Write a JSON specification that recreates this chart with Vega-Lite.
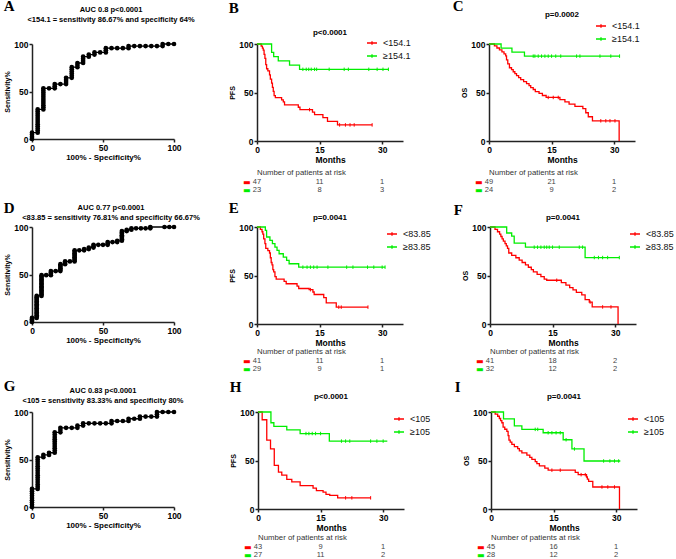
{
"$schema":"https://vega.github.io/schema/vega-lite/v6.json",
"background":"white",
"padding":{"left":3,"top":-2,"right":0,"bottom":0},
"config":{
"font":"Liberation Sans",
"view":{"stroke":null},
"title":{"fontSize":8,"fontWeight":"bold","anchor":"middle","frame":"group","color":"black","lineHeight":9.5},
"axis":{"grid":false,"domainColor":"#222","domainWidth":1.5,"tickColor":"#222","tickWidth":1.5,"tickSize":3,"labelFontSize":8.5,"labelFontWeight":"bold","labelColor":"black","labelPadding":1,"titleFontSize":8,"titleFontWeight":"bold","titleColor":"black","titlePadding":2,"labelFlush":false,"labelOverlap":false},
"axisY":{"titlePadding":3},
"legend":{"orient":"none","symbolType":"M-1,0H1M0,-0.35V0.35","symbolSize":100,"symbolStrokeWidth":1.3,"labelFontSize":9,"labelColor":"#111","rowPadding":2,"labelOffset":5,"padding":0}
},
"datasets":{
"roc":[
{"p":"A","x":0,"y":0},{"p":"A","x":0,"y":2.2},{"p":"A","x":0,"y":4.4},{"p":"A","x":0,"y":6.7},
{"p":"A","x":4,"y":6.7},{"p":"A","x":4,"y":8.9},{"p":"A","x":4,"y":11.1},{"p":"A","x":4,"y":13.3},{"p":"A","x":4,"y":15.6},{"p":"A","x":4,"y":17.8},{"p":"A","x":4,"y":20},{"p":"A","x":4,"y":22.2},{"p":"A","x":4,"y":24.4},{"p":"A","x":4,"y":26.7},{"p":"A","x":4,"y":28.9},{"p":"A","x":4,"y":31.1},
{"p":"A","x":8,"y":31.1},{"p":"A","x":8,"y":33.3},{"p":"A","x":8,"y":35.6},{"p":"A","x":8,"y":37.8},{"p":"A","x":8,"y":40},{"p":"A","x":8,"y":42.2},{"p":"A","x":8,"y":44.4},{"p":"A","x":8,"y":46.7},{"p":"A","x":8,"y":48.9},{"p":"A","x":8,"y":51.1},{"p":"A","x":8,"y":53.3},
{"p":"A","x":12,"y":53.3},{"p":"A","x":16,"y":53.3},{"p":"A","x":16,"y":55.6},{"p":"A","x":16,"y":57.8},{"p":"A","x":20,"y":57.8},
{"p":"A","x":24,"y":57.8},{"p":"A","x":24,"y":60},{"p":"A","x":24,"y":62.2},{"p":"A","x":24,"y":64.4},
{"p":"A","x":28,"y":64.4},{"p":"A","x":28,"y":66.7},{"p":"A","x":28,"y":68.9},{"p":"A","x":28,"y":71.1},{"p":"A","x":28,"y":73.3},{"p":"A","x":28,"y":75.6},
{"p":"A","x":32,"y":75.6},{"p":"A","x":32,"y":77.8},{"p":"A","x":32,"y":80},
{"p":"A","x":36,"y":80},{"p":"A","x":36,"y":82.2},{"p":"A","x":36,"y":84.4},{"p":"A","x":36,"y":86.7},
{"p":"A","x":40,"y":86.7},{"p":"A","x":40,"y":88.9},{"p":"A","x":44,"y":88.9},{"p":"A","x":44,"y":91.1},{"p":"A","x":48,"y":91.1},
{"p":"A","x":52,"y":91.1},{"p":"A","x":52,"y":93.3},{"p":"A","x":52,"y":95.6},{"p":"A","x":56,"y":95.6},{"p":"A","x":60,"y":95.6},{"p":"A","x":64,"y":95.6},
{"p":"A","x":68,"y":95.6},{"p":"A","x":68,"y":97.8},{"p":"A","x":72,"y":97.8},{"p":"A","x":76,"y":97.8},{"p":"A","x":80,"y":97.8},{"p":"A","x":84,"y":97.8},{"p":"A","x":88,"y":97.8},
{"p":"A","x":92,"y":97.8},{"p":"A","x":92,"y":100},{"p":"A","x":96,"y":100},{"p":"A","x":100,"y":100},
{"p":"D","x":0,"y":0},{"p":"D","x":0,"y":1.4},{"p":"D","x":0,"y":2.9},{"p":"D","x":0,"y":4.3},
{"p":"D","x":3.3,"y":4.3},{"p":"D","x":3.3,"y":5.8},{"p":"D","x":3.3,"y":7.2},{"p":"D","x":3.3,"y":8.7},{"p":"D","x":3.3,"y":10.1},{"p":"D","x":3.3,"y":11.6},{"p":"D","x":3.3,"y":13},{"p":"D","x":3.3,"y":14.5},{"p":"D","x":3.3,"y":15.9},{"p":"D","x":3.3,"y":17.4},{"p":"D","x":3.3,"y":18.8},{"p":"D","x":3.3,"y":20.3},{"p":"D","x":3.3,"y":21.7},{"p":"D","x":3.3,"y":23.2},{"p":"D","x":3.3,"y":24.6},{"p":"D","x":3.3,"y":26.1},{"p":"D","x":3.3,"y":27.5},
{"p":"D","x":6.7,"y":27.5},{"p":"D","x":6.7,"y":29},{"p":"D","x":6.7,"y":30.4},{"p":"D","x":6.7,"y":31.9},{"p":"D","x":6.7,"y":33.3},{"p":"D","x":6.7,"y":34.8},{"p":"D","x":6.7,"y":36.2},{"p":"D","x":6.7,"y":37.7},{"p":"D","x":6.7,"y":39.1},{"p":"D","x":6.7,"y":40.6},{"p":"D","x":6.7,"y":42},{"p":"D","x":6.7,"y":43.5},{"p":"D","x":6.7,"y":44.9},{"p":"D","x":6.7,"y":46.4},{"p":"D","x":6.7,"y":47.8},{"p":"D","x":6.7,"y":49.3},
{"p":"D","x":10,"y":49.3},{"p":"D","x":13.3,"y":49.3},{"p":"D","x":13.3,"y":50.7},{"p":"D","x":13.3,"y":52.2},{"p":"D","x":13.3,"y":53.6},{"p":"D","x":16.7,"y":53.6},
{"p":"D","x":20,"y":53.6},{"p":"D","x":20,"y":55.1},{"p":"D","x":20,"y":56.5},{"p":"D","x":20,"y":58},{"p":"D","x":20,"y":59.4},{"p":"D","x":20,"y":60.9},
{"p":"D","x":23.3,"y":60.9},{"p":"D","x":23.3,"y":62.3},{"p":"D","x":23.3,"y":63.8},{"p":"D","x":26.7,"y":63.8},
{"p":"D","x":30,"y":63.8},{"p":"D","x":30,"y":65.2},{"p":"D","x":30,"y":66.7},{"p":"D","x":30,"y":68.1},{"p":"D","x":30,"y":69.6},{"p":"D","x":30,"y":71},{"p":"D","x":30,"y":72.5},{"p":"D","x":30,"y":73.9},{"p":"D","x":30,"y":75.4},
{"p":"D","x":33.3,"y":75.4},{"p":"D","x":36.7,"y":75.4},{"p":"D","x":36.7,"y":76.8},{"p":"D","x":40,"y":76.8},{"p":"D","x":40,"y":78.3},
{"p":"D","x":43.3,"y":78.3},{"p":"D","x":43.3,"y":79.7},{"p":"D","x":43.3,"y":81.2},{"p":"D","x":46.7,"y":81.2},{"p":"D","x":50,"y":81.2},
{"p":"D","x":53.3,"y":81.2},{"p":"D","x":53.3,"y":82.6},{"p":"D","x":53.3,"y":84.1},{"p":"D","x":56.7,"y":84.1},{"p":"D","x":60,"y":84.1},{"p":"D","x":60,"y":85.5},
{"p":"D","x":63.3,"y":85.5},{"p":"D","x":63.3,"y":87},{"p":"D","x":63.3,"y":88.4},{"p":"D","x":63.3,"y":89.9},{"p":"D","x":63.3,"y":91.3},{"p":"D","x":63.3,"y":92.8},{"p":"D","x":63.3,"y":94.2},{"p":"D","x":63.3,"y":95.7},
{"p":"D","x":66.7,"y":95.7},{"p":"D","x":66.7,"y":97.1},{"p":"D","x":70,"y":97.1},{"p":"D","x":70,"y":98.6},{"p":"D","x":73.3,"y":98.6},{"p":"D","x":76.7,"y":98.6},{"p":"D","x":80,"y":98.6},
{"p":"D","x":83.3,"y":98.6},{"p":"D","x":83.3,"y":100},{"p":"D","x":93.3,"y":100},{"p":"D","x":96.7,"y":100},{"p":"D","x":100,"y":100},
{"p":"G","x":0,"y":0},{"p":"G","x":0,"y":2.4},{"p":"G","x":0,"y":4.8},{"p":"G","x":0,"y":7.1},{"p":"G","x":0,"y":9.5},{"p":"G","x":0,"y":11.9},{"p":"G","x":0,"y":14.3},{"p":"G","x":0,"y":16.7},{"p":"G","x":0,"y":19},
{"p":"G","x":4,"y":19},{"p":"G","x":4,"y":21.4},{"p":"G","x":4,"y":23.8},{"p":"G","x":4,"y":26.2},{"p":"G","x":4,"y":28.6},{"p":"G","x":4,"y":31},{"p":"G","x":4,"y":33.3},{"p":"G","x":4,"y":35.7},{"p":"G","x":4,"y":38.1},{"p":"G","x":4,"y":40.5},{"p":"G","x":4,"y":42.9},{"p":"G","x":4,"y":45.2},{"p":"G","x":4,"y":47.6},{"p":"G","x":4,"y":50},{"p":"G","x":4,"y":52.4},
{"p":"G","x":8,"y":52.4},{"p":"G","x":8,"y":54.8},{"p":"G","x":12,"y":54.8},{"p":"G","x":12,"y":57.1},
{"p":"G","x":16,"y":57.1},{"p":"G","x":16,"y":59.5},{"p":"G","x":16,"y":61.9},{"p":"G","x":16,"y":64.3},{"p":"G","x":16,"y":66.7},{"p":"G","x":16,"y":69},{"p":"G","x":16,"y":71.4},{"p":"G","x":16,"y":73.8},{"p":"G","x":16,"y":76.2},{"p":"G","x":16,"y":78.6},
{"p":"G","x":20,"y":78.6},{"p":"G","x":20,"y":81},{"p":"G","x":20,"y":83.3},{"p":"G","x":24,"y":83.3},{"p":"G","x":28,"y":83.3},
{"p":"G","x":32,"y":83.3},{"p":"G","x":32,"y":85.7},{"p":"G","x":36,"y":85.7},{"p":"G","x":36,"y":88.1},{"p":"G","x":40,"y":88.1},{"p":"G","x":44,"y":88.1},{"p":"G","x":48,"y":88.1},{"p":"G","x":52,"y":88.1},
{"p":"G","x":56,"y":88.1},{"p":"G","x":56,"y":90.5},{"p":"G","x":60,"y":90.5},{"p":"G","x":64,"y":90.5},{"p":"G","x":68,"y":90.5},{"p":"G","x":68,"y":92.9},{"p":"G","x":72,"y":92.9},
{"p":"G","x":76,"y":92.9},{"p":"G","x":76,"y":95.2},{"p":"G","x":80,"y":95.2},{"p":"G","x":84,"y":95.2},{"p":"G","x":88,"y":95.2},{"p":"G","x":88,"y":97.6},{"p":"G","x":88,"y":100},{"p":"G","x":92,"y":100},{"p":"G","x":96,"y":100},{"p":"G","x":100,"y":100}
],
"km":[
{"p":"B","g":"<154.1","t":0,"s":100},{"p":"B","g":"<154.1","t":1,"s":97.9},{"p":"B","g":"<154.1","t":1.3,"s":95.7},{"p":"B","g":"<154.1","t":1.5,"s":93.6},{"p":"B","g":"<154.1","t":1.7,"s":89.4},{"p":"B","g":"<154.1","t":1.9,"s":85.1},{"p":"B","g":"<154.1","t":2.1,"s":78.7},{"p":"B","g":"<154.1","t":2.3,"s":74.5},{"p":"B","g":"<154.1","t":2.6,"s":72.3},{"p":"B","g":"<154.1","t":3,"s":68.1},{"p":"B","g":"<154.1","t":3.2,"s":63.8},{"p":"B","g":"<154.1","t":3.5,"s":59.6},{"p":"B","g":"<154.1","t":3.7,"s":55.3},{"p":"B","g":"<154.1","t":3.9,"s":51.1},{"p":"B","g":"<154.1","t":4.1,"s":46.8},{"p":"B","g":"<154.1","t":4.4,"s":44.7},{"p":"B","g":"<154.1","t":5.9,"s":42.5},{"p":"B","g":"<154.1","t":6.3,"s":40.4},{"p":"B","g":"<154.1","t":6.6,"s":37.2},{"p":"B","g":"<154.1","t":9.9,"s":34.8},{"p":"B","g":"<154.1","t":10.3,"s":32.3},{"p":"B","g":"<154.1","t":13.3,"s":29.8},{"p":"B","g":"<154.1","t":13.8,"s":27.1},{"p":"B","g":"<154.1","t":15.8,"s":24.2},{"p":"B","g":"<154.1","t":16.9,"s":20.2},{"p":"B","g":"<154.1","t":19.3,"s":16.6},{"p":"B","g":"<154.1","t":27.6,"s":16.6},
{"p":"B","g":"≥154.1","t":0,"s":100},{"p":"B","g":"≥154.1","t":3.5,"s":91.3},{"p":"B","g":"≥154.1","t":4,"s":87},{"p":"B","g":"≥154.1","t":5.1,"s":82.6},{"p":"B","g":"≥154.1","t":7.8,"s":78.3},{"p":"B","g":"≥154.1","t":10.2,"s":73.9},{"p":"B","g":"≥154.1","t":31.5,"s":73.9},
{"p":"C","g":"<154.1","t":0,"s":100},{"p":"C","g":"<154.1","t":1.3,"s":98},{"p":"C","g":"<154.1","t":1.9,"s":95.9},{"p":"C","g":"<154.1","t":2.5,"s":93.9},{"p":"C","g":"<154.1","t":3.1,"s":91.8},{"p":"C","g":"<154.1","t":3.6,"s":89.8},{"p":"C","g":"<154.1","t":4,"s":87.8},{"p":"C","g":"<154.1","t":4.2,"s":83.7},{"p":"C","g":"<154.1","t":4.5,"s":79.6},{"p":"C","g":"<154.1","t":4.9,"s":75.5},{"p":"C","g":"<154.1","t":5.4,"s":73.5},{"p":"C","g":"<154.1","t":5.8,"s":71.4},{"p":"C","g":"<154.1","t":6.2,"s":69.4},{"p":"C","g":"<154.1","t":6.6,"s":67.3},{"p":"C","g":"<154.1","t":7.1,"s":65.3},{"p":"C","g":"<154.1","t":7.6,"s":63.3},{"p":"C","g":"<154.1","t":8.3,"s":61.2},{"p":"C","g":"<154.1","t":9,"s":59.2},{"p":"C","g":"<154.1","t":9.6,"s":57.1},{"p":"C","g":"<154.1","t":10,"s":55.1},{"p":"C","g":"<154.1","t":10.6,"s":53.1},{"p":"C","g":"<154.1","t":11.1,"s":51},{"p":"C","g":"<154.1","t":12,"s":49},{"p":"C","g":"<154.1","t":12.8,"s":46.9},{"p":"C","g":"<154.1","t":13.7,"s":44.9},{"p":"C","g":"<154.1","t":17,"s":42.6},{"p":"C","g":"<154.1","t":18.2,"s":40.3},{"p":"C","g":"<154.1","t":19.2,"s":38},{"p":"C","g":"<154.1","t":20.6,"s":35.7},{"p":"C","g":"<154.1","t":22.5,"s":33.3},{"p":"C","g":"<154.1","t":23.2,"s":29.1},{"p":"C","g":"<154.1","t":23.8,"s":25},{"p":"C","g":"<154.1","t":24.8,"s":20.8},{"p":"C","g":"<154.1","t":31.2,"s":0},
{"p":"C","g":"≥154.1","t":0,"s":100},{"p":"C","g":"≥154.1","t":2.9,"s":95.8},{"p":"C","g":"≥154.1","t":5.5,"s":91.7},{"p":"C","g":"≥154.1","t":8.5,"s":87.5},{"p":"C","g":"≥154.1","t":31.3,"s":87.5},
{"p":"E","g":"<83.85","t":0,"s":100},{"p":"E","g":"<83.85","t":0.8,"s":97.6},{"p":"E","g":"<83.85","t":1.2,"s":95.1},{"p":"E","g":"<83.85","t":1.4,"s":92.7},{"p":"E","g":"<83.85","t":1.6,"s":87.8},{"p":"E","g":"<83.85","t":1.9,"s":82.9},{"p":"E","g":"<83.85","t":2.1,"s":78},{"p":"E","g":"<83.85","t":2.6,"s":75.6},{"p":"E","g":"<83.85","t":3,"s":73.2},{"p":"E","g":"<83.85","t":3.2,"s":68.3},{"p":"E","g":"<83.85","t":3.4,"s":63.4},{"p":"E","g":"<83.85","t":3.6,"s":61},{"p":"E","g":"<83.85","t":3.8,"s":56.1},{"p":"E","g":"<83.85","t":4,"s":53.7},{"p":"E","g":"<83.85","t":4.3,"s":48.8},{"p":"E","g":"<83.85","t":4.6,"s":46.3},{"p":"E","g":"<83.85","t":6.5,"s":43.9},{"p":"E","g":"<83.85","t":7,"s":41.5},{"p":"E","g":"<83.85","t":9.6,"s":39},{"p":"E","g":"<83.85","t":10,"s":36.6},{"p":"E","g":"<83.85","t":12.5,"s":35.4},{"p":"E","g":"<83.85","t":13.4,"s":33},{"p":"E","g":"<83.85","t":13.7,"s":30.4},{"p":"E","g":"<83.85","t":16,"s":27.1},{"p":"E","g":"<83.85","t":16.6,"s":21.7},{"p":"E","g":"<83.85","t":19,"s":17.4},{"p":"E","g":"<83.85","t":26.6,"s":17.4},
{"p":"E","g":"≥83.85","t":0,"s":100},{"p":"E","g":"≥83.85","t":2,"s":96.6},{"p":"E","g":"≥83.85","t":2.3,"s":89.7},{"p":"E","g":"≥83.85","t":3.1,"s":86.2},{"p":"E","g":"≥83.85","t":3.7,"s":82.8},{"p":"E","g":"≥83.85","t":4.3,"s":79.3},{"p":"E","g":"≥83.85","t":4.8,"s":75.9},{"p":"E","g":"≥83.85","t":5.3,"s":72.4},{"p":"E","g":"≥83.85","t":6.3,"s":69},{"p":"E","g":"≥83.85","t":7.1,"s":65.5},{"p":"E","g":"≥83.85","t":7.7,"s":62.1},{"p":"E","g":"≥83.85","t":10,"s":58.6},{"p":"E","g":"≥83.85","t":30.7,"s":58.6},
{"p":"F","g":"<83.85","t":0,"s":100},{"p":"F","g":"<83.85","t":1.2,"s":97.6},{"p":"F","g":"<83.85","t":1.8,"s":95.1},{"p":"F","g":"<83.85","t":2.3,"s":92.7},{"p":"F","g":"<83.85","t":2.6,"s":90.2},{"p":"F","g":"<83.85","t":2.9,"s":87.8},{"p":"F","g":"<83.85","t":3.2,"s":85.4},{"p":"F","g":"<83.85","t":3.6,"s":82.9},{"p":"F","g":"<83.85","t":3.9,"s":80.5},{"p":"F","g":"<83.85","t":4.2,"s":78},{"p":"F","g":"<83.85","t":4.5,"s":73.2},{"p":"F","g":"<83.85","t":5.2,"s":70.7},{"p":"F","g":"<83.85","t":6.2,"s":68.3},{"p":"F","g":"<83.85","t":7,"s":65.9},{"p":"F","g":"<83.85","t":7.7,"s":63.4},{"p":"F","g":"<83.85","t":8.5,"s":61},{"p":"F","g":"<83.85","t":9.2,"s":58.5},{"p":"F","g":"<83.85","t":9.9,"s":56.1},{"p":"F","g":"<83.85","t":10.4,"s":53.7},{"p":"F","g":"<83.85","t":11.3,"s":51.2},{"p":"F","g":"<83.85","t":12.2,"s":48.8},{"p":"F","g":"<83.85","t":13,"s":46.3},{"p":"F","g":"<83.85","t":13.6,"s":45.1},{"p":"F","g":"<83.85","t":17.1,"s":42.6},{"p":"F","g":"<83.85","t":18.2,"s":40.1},{"p":"F","g":"<83.85","t":19.1,"s":37.6},{"p":"F","g":"<83.85","t":19.9,"s":35.1},{"p":"F","g":"<83.85","t":20.7,"s":32.6},{"p":"F","g":"<83.85","t":22,"s":30.1},{"p":"F","g":"<83.85","t":22.8,"s":25.1},{"p":"F","g":"<83.85","t":23.8,"s":22.6},{"p":"F","g":"<83.85","t":24.5,"s":17.6},{"p":"F","g":"<83.85","t":30.7,"s":0},
{"p":"F","g":"≥83.85","t":0,"s":100},{"p":"F","g":"≥83.85","t":4,"s":93.8},{"p":"F","g":"≥83.85","t":5.2,"s":90.6},{"p":"F","g":"≥83.85","t":5.8,"s":83.3},{"p":"F","g":"≥83.85","t":8.5,"s":79.2},{"p":"F","g":"≥83.85","t":22.8,"s":68.5},{"p":"F","g":"≥83.85","t":31,"s":68.5},
{"p":"H","g":"<105","t":0,"s":100},{"p":"H","g":"<105","t":1,"s":92},{"p":"H","g":"<105","t":2.1,"s":71},{"p":"H","g":"<105","t":3,"s":62},{"p":"H","g":"<105","t":3.9,"s":45},{"p":"H","g":"<105","t":4.9,"s":38},{"p":"H","g":"<105","t":5.7,"s":35},{"p":"H","g":"<105","t":6.9,"s":30.5},{"p":"H","g":"<105","t":8.1,"s":28},{"p":"H","g":"<105","t":10.1,"s":24},{"p":"H","g":"<105","t":13.2,"s":21.5},{"p":"H","g":"<105","t":14,"s":19},{"p":"H","g":"<105","t":15.6,"s":17.5},{"p":"H","g":"<105","t":16.3,"s":15},{"p":"H","g":"<105","t":17.2,"s":14},{"p":"H","g":"<105","t":19.1,"s":11.5},{"p":"H","g":"<105","t":27,"s":11.5},
{"p":"H","g":"≥105","t":0,"s":100},{"p":"H","g":"≥105","t":3.1,"s":88.9},{"p":"H","g":"≥105","t":3.8,"s":85.2},{"p":"H","g":"≥105","t":6.9,"s":81.5},{"p":"H","g":"≥105","t":10.1,"s":77.8},{"p":"H","g":"≥105","t":17.1,"s":70},{"p":"H","g":"≥105","t":31,"s":70},
{"p":"I","g":"<105","t":0,"s":100},{"p":"I","g":"<105","t":1,"s":97.8},{"p":"I","g":"<105","t":1.6,"s":95.6},{"p":"I","g":"<105","t":2,"s":93.3},{"p":"I","g":"<105","t":2.3,"s":91.1},{"p":"I","g":"<105","t":2.6,"s":88.9},{"p":"I","g":"<105","t":2.9,"s":84.4},{"p":"I","g":"<105","t":3.3,"s":82.2},{"p":"I","g":"<105","t":3.8,"s":80},{"p":"I","g":"<105","t":4.1,"s":75.6},{"p":"I","g":"<105","t":4.3,"s":71.1},{"p":"I","g":"<105","t":4.6,"s":68.9},{"p":"I","g":"<105","t":5,"s":66.7},{"p":"I","g":"<105","t":5.6,"s":64.4},{"p":"I","g":"<105","t":6.4,"s":62.2},{"p":"I","g":"<105","t":6.8,"s":60},{"p":"I","g":"<105","t":7.4,"s":57.8},{"p":"I","g":"<105","t":8.6,"s":55.6},{"p":"I","g":"<105","t":9.3,"s":53.3},{"p":"I","g":"<105","t":9.8,"s":51.1},{"p":"I","g":"<105","t":10.6,"s":48.9},{"p":"I","g":"<105","t":11,"s":46.7},{"p":"I","g":"<105","t":11.6,"s":44.4},{"p":"I","g":"<105","t":12.9,"s":42.2},{"p":"I","g":"<105","t":13.7,"s":40},{"p":"I","g":"<105","t":20.2,"s":37.7},{"p":"I","g":"<105","t":20.9,"s":35.4},{"p":"I","g":"<105","t":22.9,"s":33},{"p":"I","g":"<105","t":23.1,"s":30.7},{"p":"I","g":"<105","t":23.4,"s":28.4},{"p":"I","g":"<105","t":24.4,"s":22.7},{"p":"I","g":"<105","t":30.8,"s":0},
{"p":"I","g":"≥105","t":0,"s":100},{"p":"I","g":"≥105","t":3,"s":92.9},{"p":"I","g":"≥105","t":5.6,"s":85.7},{"p":"I","g":"≥105","t":7.4,"s":82.1},{"p":"I","g":"≥105","t":12.5,"s":78.6},{"p":"I","g":"≥105","t":17.3,"s":71.4},{"p":"I","g":"≥105","t":19.4,"s":61.9},{"p":"I","g":"≥105","t":22.3,"s":49.5},{"p":"I","g":"≥105","t":31,"s":49.5}
],
"cen":[
{"p":"B","g":"<154.1","t":12.6,"s":32.3},{"p":"B","g":"<154.1","t":19.8,"s":16.6},{"p":"B","g":"<154.1","t":21.2,"s":16.6},{"p":"B","g":"<154.1","t":22.3,"s":16.6},{"p":"B","g":"<154.1","t":23.3,"s":16.6},{"p":"B","g":"<154.1","t":27.6,"s":16.6},
{"p":"B","g":"≥154.1","t":11,"s":73.9},{"p":"B","g":"≥154.1","t":11.8,"s":73.9},{"p":"B","g":"≥154.1","t":12.4,"s":73.9},{"p":"B","g":"≥154.1","t":13,"s":73.9},{"p":"B","g":"≥154.1","t":13.8,"s":73.9},{"p":"B","g":"≥154.1","t":14.3,"s":73.9},{"p":"B","g":"≥154.1","t":17.3,"s":73.9},{"p":"B","g":"≥154.1","t":20.9,"s":73.9},{"p":"B","g":"≥154.1","t":21.9,"s":73.9},{"p":"B","g":"≥154.1","t":26.8,"s":73.9},{"p":"B","g":"≥154.1","t":28.8,"s":73.9},{"p":"B","g":"≥154.1","t":30.2,"s":73.9},{"p":"B","g":"≥154.1","t":31.5,"s":73.9},
{"p":"C","g":"<154.1","t":14.2,"s":44.9},{"p":"C","g":"<154.1","t":15.4,"s":44.9},{"p":"C","g":"<154.1","t":16.6,"s":44.9},{"p":"C","g":"<154.1","t":26.8,"s":20.8},{"p":"C","g":"<154.1","t":28,"s":20.8},{"p":"C","g":"<154.1","t":29,"s":20.8},{"p":"C","g":"<154.1","t":30.2,"s":20.8},
{"p":"C","g":"≥154.1","t":10.6,"s":87.5},{"p":"C","g":"≥154.1","t":11,"s":87.5},{"p":"C","g":"≥154.1","t":11.8,"s":87.5},{"p":"C","g":"≥154.1","t":12.6,"s":87.5},{"p":"C","g":"≥154.1","t":13.4,"s":87.5},{"p":"C","g":"≥154.1","t":14.2,"s":87.5},{"p":"C","g":"≥154.1","t":15,"s":87.5},{"p":"C","g":"≥154.1","t":16,"s":87.5},{"p":"C","g":"≥154.1","t":17.2,"s":87.5},{"p":"C","g":"≥154.1","t":21,"s":87.5},{"p":"C","g":"≥154.1","t":21.8,"s":87.5},{"p":"C","g":"≥154.1","t":26.6,"s":87.5},{"p":"C","g":"≥154.1","t":29.2,"s":87.5},{"p":"C","g":"≥154.1","t":31.3,"s":87.5},
{"p":"E","g":"<83.85","t":12.8,"s":35.4},{"p":"E","g":"<83.85","t":19.6,"s":17.4},{"p":"E","g":"<83.85","t":20.2,"s":17.4},{"p":"E","g":"<83.85","t":26.6,"s":17.4},
{"p":"E","g":"≥83.85","t":11,"s":58.6},{"p":"E","g":"≥83.85","t":12,"s":58.6},{"p":"E","g":"≥83.85","t":12.8,"s":58.6},{"p":"E","g":"≥83.85","t":13.6,"s":58.6},{"p":"E","g":"≥83.85","t":14.4,"s":58.6},{"p":"E","g":"≥83.85","t":17,"s":58.6},{"p":"E","g":"≥83.85","t":21.5,"s":58.6},{"p":"E","g":"≥83.85","t":23,"s":58.6},{"p":"E","g":"≥83.85","t":26.5,"s":58.6},{"p":"E","g":"≥83.85","t":28,"s":58.6},{"p":"E","g":"≥83.85","t":30,"s":58.6},{"p":"E","g":"≥83.85","t":30.7,"s":58.6},
{"p":"F","g":"<83.85","t":16,"s":45.1},{"p":"F","g":"<83.85","t":24,"s":22.6},{"p":"F","g":"<83.85","t":27,"s":17.6},{"p":"F","g":"<83.85","t":29,"s":17.6},
{"p":"F","g":"≥83.85","t":10.6,"s":79.2},{"p":"F","g":"≥83.85","t":11.4,"s":79.2},{"p":"F","g":"≥83.85","t":12.2,"s":79.2},{"p":"F","g":"≥83.85","t":13,"s":79.2},{"p":"F","g":"≥83.85","t":13.6,"s":79.2},{"p":"F","g":"≥83.85","t":14.2,"s":79.2},{"p":"F","g":"≥83.85","t":15,"s":79.2},{"p":"F","g":"≥83.85","t":16.6,"s":79.2},{"p":"F","g":"≥83.85","t":21.4,"s":79.2},{"p":"F","g":"≥83.85","t":22.2,"s":79.2},{"p":"F","g":"≥83.85","t":25,"s":68.5},{"p":"F","g":"≥83.85","t":26,"s":68.5},{"p":"F","g":"≥83.85","t":27,"s":68.5},{"p":"F","g":"≥83.85","t":28.2,"s":68.5},{"p":"F","g":"≥83.85","t":31,"s":68.5},
{"p":"H","g":"<105","t":21,"s":11.5},{"p":"H","g":"<105","t":22.5,"s":11.5},{"p":"H","g":"<105","t":27,"s":11.5},
{"p":"H","g":"≥105","t":11.5,"s":77.8},{"p":"H","g":"≥105","t":12.2,"s":77.8},{"p":"H","g":"≥105","t":13,"s":77.8},{"p":"H","g":"≥105","t":13.8,"s":77.8},{"p":"H","g":"≥105","t":15,"s":77.8},{"p":"H","g":"≥105","t":20,"s":70},{"p":"H","g":"≥105","t":21,"s":70},{"p":"H","g":"≥105","t":22,"s":70},{"p":"H","g":"≥105","t":27,"s":70},{"p":"H","g":"≥105","t":28.5,"s":70},{"p":"H","g":"≥105","t":30,"s":70},
{"p":"I","g":"<105","t":14.6,"s":40},{"p":"I","g":"<105","t":16.6,"s":40},{"p":"I","g":"<105","t":21.6,"s":35.4},{"p":"I","g":"<105","t":22.6,"s":35.4},{"p":"I","g":"<105","t":26.6,"s":22.7},{"p":"I","g":"<105","t":28,"s":22.7},{"p":"I","g":"<105","t":29.6,"s":22.7},
{"p":"I","g":"≥105","t":10.6,"s":82.1},{"p":"I","g":"≥105","t":11.2,"s":82.1},{"p":"I","g":"≥105","t":13.7,"s":78.6},{"p":"I","g":"≥105","t":14.6,"s":78.6},{"p":"I","g":"≥105","t":15.6,"s":78.6},{"p":"I","g":"≥105","t":16.6,"s":78.6},{"p":"I","g":"≥105","t":18,"s":71.4},{"p":"I","g":"≥105","t":20,"s":61.9},{"p":"I","g":"≥105","t":27,"s":49.5},{"p":"I","g":"≥105","t":28.5,"s":49.5},{"p":"I","g":"≥105","t":29.6,"s":49.5},{"p":"I","g":"≥105","t":30.6,"s":49.5}
],
"risk":[
{"p":"B","g":"<154.1","t":0,"n":47},{"p":"B","g":"<154.1","t":15,"n":11},{"p":"B","g":"<154.1","t":30,"n":1},{"p":"B","g":"≥154.1","t":0,"n":23},{"p":"B","g":"≥154.1","t":15,"n":8},{"p":"B","g":"≥154.1","t":30,"n":3},
{"p":"C","g":"<154.1","t":0,"n":49},{"p":"C","g":"<154.1","t":15,"n":21},{"p":"C","g":"<154.1","t":30,"n":1},{"p":"C","g":"≥154.1","t":0,"n":24},{"p":"C","g":"≥154.1","t":15,"n":9},{"p":"C","g":"≥154.1","t":30,"n":2},
{"p":"E","g":"<83.85","t":0,"n":41},{"p":"E","g":"<83.85","t":15,"n":11},{"p":"E","g":"<83.85","t":30,"n":1},{"p":"E","g":"≥83.85","t":0,"n":29},{"p":"E","g":"≥83.85","t":15,"n":9},{"p":"E","g":"≥83.85","t":30,"n":1},
{"p":"F","g":"<83.85","t":0,"n":41},{"p":"F","g":"<83.85","t":15,"n":18},{"p":"F","g":"<83.85","t":30,"n":2},{"p":"F","g":"≥83.85","t":0,"n":32},{"p":"F","g":"≥83.85","t":15,"n":12},{"p":"F","g":"≥83.85","t":30,"n":2},
{"p":"H","g":"<105","t":0,"n":43},{"p":"H","g":"<105","t":15,"n":9},{"p":"H","g":"<105","t":30,"n":1},{"p":"H","g":"≥105","t":0,"n":27},{"p":"H","g":"≥105","t":15,"n":11},{"p":"H","g":"≥105","t":30,"n":2},
{"p":"I","g":"<105","t":0,"n":45},{"p":"I","g":"<105","t":15,"n":16},{"p":"I","g":"<105","t":30,"n":1},{"p":"I","g":"≥105","t":0,"n":28},{"p":"I","g":"≥105","t":15,"n":12},{"p":"I","g":"≥105","t":30,"n":2}
]
},
"spacing":6,
"resolve":{"scale":{"color":"independent"},"legend":{"color":"independent"}},
"vconcat":[
{"spacing":33,"resolve":{"scale":{"color":"independent"},"legend":{"color":"independent"}},
"hconcat":[
{"title":{"text":"A","anchor":"start","frame":"bounds","font":"Liberation Serif","fontSize":15,"fontWeight":"bold","color":"black","offset":-7.5},
"vconcat":[{"title":{"text":["AUC 0.8 p<0.0001","<154.1 = sensitivity 86.67% and specificity 64%"],"fontSize":7.5,"offset":17,"dx":8},
"width":142,"height":95,"data":{"name":"roc"},"transform":[{"filter":"datum.p=='A'"}],
"encoding":{"x":{"field":"x","type":"quantitative","scale":{"domain":[0,100],"nice":false},"axis":{"values":[0,50,100],"title":"100% - Specificity%"}},
"y":{"field":"y","type":"quantitative","scale":{"domain":[0,100],"nice":false},"axis":{"values":[0,50,100],"title":"Sensitivity%","titleFontSize":7}}},
"layer":[{"mark":{"type":"line","color":"black","strokeWidth":1.3},"encoding":{"order":[{"field":"x","type":"quantitative"},{"field":"y","type":"quantitative"}]}},
{"mark":{"type":"point","filled":true,"color":"black","size":22,"opacity":1}}]}]},
{"spacing":41,"resolve":{"scale":{"color":"independent"},"legend":{"color":"independent"}},
"hconcat":[
{"title":{"text":"B","anchor":"start","frame":"bounds","font":"Liberation Serif","fontSize":15,"fontWeight":"bold","color":"black","offset":13},
"bounds":"flush","spacing":37,
"resolve":{"scale":{"color":"independent"},"legend":{"color":"independent"}},
"vconcat":[
{"title":{"text":"p<0.0001","offset":0},"width":146,"height":97,
"layer":[
{"data":{"name":"km"},"transform":[{"filter":"datum.p=='B'"}],"mark":{"type":"line","interpolate":"step-after","strokeWidth":1.3},
"encoding":{"x":{"field":"t","type":"quantitative","scale":{"domain":[0,35],"nice":false},"axis":{"values":[0,15,30],"title":"Months","titleFontSize":8.5}},
"y":{"field":"s","type":"quantitative","scale":{"domain":[0,100],"nice":false},"axis":{"values":[0,50,100],"title":"PFS","titleFontSize":7}},
"color":{"field":"g","type":"nominal","scale":{"domain":["<154.1","≥154.1"],"range":["#ff0000","#00ee00"]},"legend":{"title":null,"legendX":109,"legendY":-7}}}},
{"data":{"name":"cen"},"transform":[{"filter":"datum.p=='B'"}],"mark":{"type":"point","shape":"M0,-1V1","filled":false,"size":12,"strokeWidth":1,"opacity":1},
"encoding":{"x":{"field":"t","type":"quantitative"},"y":{"field":"s","type":"quantitative"},"color":{"field":"g","type":"nominal"}}}]},
{"title":{"text":"Number of patients at risk","anchor":"start","frame":"group","fontSize":7.8,"fontWeight":"normal","color":"#333","offset":1},
"width":146,"height":16,"data":{"name":"risk"},"transform":[{"filter":"datum.p=='B'"}],
"mark":{"type":"text","fontSize":7.5,"color":"#444"},
"encoding":{"x":{"field":"t","type":"quantitative","scale":{"domain":[0,35],"nice":false},"axis":null},
"y":{"field":"g","type":"nominal","sort":["<154.1","≥154.1"],"axis":{"title":null,"domain":false,"ticks":false,"labelExpr":"'▬'","labelFont":"DejaVu Sans","labelFontSize":8,"labelFontWeight":"normal","labelPadding":7,"labelColor":{"condition":{"test":"indexof(datum.value,'<')===0","value":"#ff0000"},"value":"#00ee00"}}},
"text":{"field":"n","type":"quantitative"}}}]},
{"title":{"text":"C","anchor":"start","frame":"bounds","font":"Liberation Serif","fontSize":15,"fontWeight":"bold","color":"black","offset":-3,"dx":-8},
"bounds":"flush","spacing":37,
"resolve":{"scale":{"color":"independent"},"legend":{"color":"independent"}},
"vconcat":[
{"title":{"text":"p=0.0002","offset":1},"width":146,"height":97,
"layer":[
{"data":{"name":"km"},"transform":[{"filter":"datum.p=='C'"}],"mark":{"type":"line","interpolate":"step-after","strokeWidth":1.3},
"encoding":{"x":{"field":"t","type":"quantitative","scale":{"domain":[0,35],"nice":false},"axis":{"values":[0,15,30],"title":"Months","titleFontSize":8.5}},
"y":{"field":"s","type":"quantitative","scale":{"domain":[0,100],"nice":false},"axis":{"values":[0,50,100],"title":"OS","titleFontSize":7}},
"color":{"field":"g","type":"nominal","scale":{"domain":["<154.1","≥154.1"],"range":["#ff0000","#00ee00"]},"legend":{"title":null,"legendX":106,"legendY":-24}}}},
{"data":{"name":"cen"},"transform":[{"filter":"datum.p=='C'"}],"mark":{"type":"point","shape":"M0,-1V1","filled":false,"size":12,"strokeWidth":1,"opacity":1},
"encoding":{"x":{"field":"t","type":"quantitative"},"y":{"field":"s","type":"quantitative"},"color":{"field":"g","type":"nominal"}}}]},
{"title":{"text":"Number of patients at risk","anchor":"start","frame":"group","fontSize":7.8,"fontWeight":"normal","color":"#333","offset":1},
"width":146,"height":16,"data":{"name":"risk"},"transform":[{"filter":"datum.p=='C'"}],
"mark":{"type":"text","fontSize":7.5,"color":"#444"},
"encoding":{"x":{"field":"t","type":"quantitative","scale":{"domain":[0,35],"nice":false},"axis":null},
"y":{"field":"g","type":"nominal","sort":["<154.1","≥154.1"],"axis":{"title":null,"domain":false,"ticks":false,"labelExpr":"'▬'","labelFont":"DejaVu Sans","labelFontSize":8,"labelFontWeight":"normal","labelPadding":7,"labelColor":{"condition":{"test":"indexof(datum.value,'<')===0","value":"#ff0000"},"value":"#00ee00"}}},
"text":{"field":"n","type":"quantitative"}}}]}
]}]},
{"spacing":28,"resolve":{"scale":{"color":"independent"},"legend":{"color":"independent"}},
"hconcat":[
{"title":{"text":"D","anchor":"start","frame":"bounds","font":"Liberation Serif","fontSize":15,"fontWeight":"bold","color":"black","offset":-11.5},
"vconcat":[{"title":{"text":["AUC 0.77 p<0.0001","<83.85 = sensitivity 76.81% and specificity 66.67%"],"fontSize":7.5,"offset":2,"dx":8},
"width":142,"height":95,"data":{"name":"roc"},"transform":[{"filter":"datum.p=='D'"}],
"encoding":{"x":{"field":"x","type":"quantitative","scale":{"domain":[0,100],"nice":false},"axis":{"values":[0,50,100],"title":"100% - Specificity%"}},
"y":{"field":"y","type":"quantitative","scale":{"domain":[0,100],"nice":false},"axis":{"values":[0,50,100],"title":"Sensitivity%","titleFontSize":7}}},
"layer":[{"mark":{"type":"line","color":"black","strokeWidth":1.3},"encoding":{"order":[{"field":"x","type":"quantitative"},{"field":"y","type":"quantitative"}]}},
{"mark":{"type":"point","filled":true,"color":"black","size":22,"opacity":1}}]}]},
{"spacing":22,"resolve":{"scale":{"color":"independent"},"legend":{"color":"independent"}},
"hconcat":[
{"title":{"text":"E","anchor":"start","frame":"bounds","font":"Liberation Serif","fontSize":15,"fontWeight":"bold","color":"black","offset":-2},
"bounds":"flush","spacing":33,
"resolve":{"scale":{"color":"independent"},"legend":{"color":"independent"}},
"vconcat":[
{"title":{"text":"p=0.0041","offset":1},"width":146,"height":97,
"layer":[
{"data":{"name":"km"},"transform":[{"filter":"datum.p=='E'"}],"mark":{"type":"line","interpolate":"step-after","strokeWidth":1.3},
"encoding":{"x":{"field":"t","type":"quantitative","scale":{"domain":[0,35],"nice":false},"axis":{"values":[0,15,30],"title":"Months","titleFontSize":8.5}},
"y":{"field":"s","type":"quantitative","scale":{"domain":[0,100],"nice":false},"axis":{"values":[0,50,100],"title":"PFS","titleFontSize":7}},
"color":{"field":"g","type":"nominal","scale":{"domain":["<83.85","≥83.85"],"range":["#ff0000","#00ee00"]},"legend":{"title":null,"legendX":129,"legendY":1}}}},
{"data":{"name":"cen"},"transform":[{"filter":"datum.p=='E'"}],"mark":{"type":"point","shape":"M0,-1V1","filled":false,"size":12,"strokeWidth":1,"opacity":1},
"encoding":{"x":{"field":"t","type":"quantitative"},"y":{"field":"s","type":"quantitative"},"color":{"field":"g","type":"nominal"}}}]},
{"title":{"text":"Number of patients at risk","anchor":"start","frame":"group","fontSize":7.8,"fontWeight":"normal","color":"#333","offset":1},
"width":146,"height":16,"data":{"name":"risk"},"transform":[{"filter":"datum.p=='E'"}],
"mark":{"type":"text","fontSize":7.5,"color":"#444"},
"encoding":{"x":{"field":"t","type":"quantitative","scale":{"domain":[0,35],"nice":false},"axis":null},
"y":{"field":"g","type":"nominal","sort":["<83.85","≥83.85"],"axis":{"title":null,"domain":false,"ticks":false,"labelExpr":"'▬'","labelFont":"DejaVu Sans","labelFontSize":8,"labelFontWeight":"normal","labelPadding":7,"labelColor":{"condition":{"test":"indexof(datum.value,'<')===0","value":"#ff0000"},"value":"#00ee00"}}},
"text":{"field":"n","type":"quantitative"}}}]},
{"title":{"text":"F","anchor":"start","frame":"bounds","font":"Liberation Serif","fontSize":15,"fontWeight":"bold","color":"black","offset":-4,"dx":-8},
"bounds":"flush","spacing":33,
"resolve":{"scale":{"color":"independent"},"legend":{"color":"independent"}},
"vconcat":[
{"title":{"text":"p=0.0041","offset":1},"width":146,"height":97,
"layer":[
{"data":{"name":"km"},"transform":[{"filter":"datum.p=='F'"}],"mark":{"type":"line","interpolate":"step-after","strokeWidth":1.3},
"encoding":{"x":{"field":"t","type":"quantitative","scale":{"domain":[0,35],"nice":false},"axis":{"values":[0,15,30],"title":"Months","titleFontSize":8.5}},
"y":{"field":"s","type":"quantitative","scale":{"domain":[0,100],"nice":false},"axis":{"values":[0,50,100],"title":"OS","titleFontSize":7}},
"color":{"field":"g","type":"nominal","scale":{"domain":["<83.85","≥83.85"],"range":["#ff0000","#00ee00"]},"legend":{"title":null,"legendX":139,"legendY":1}}}},
{"data":{"name":"cen"},"transform":[{"filter":"datum.p=='F'"}],"mark":{"type":"point","shape":"M0,-1V1","filled":false,"size":12,"strokeWidth":1,"opacity":1},
"encoding":{"x":{"field":"t","type":"quantitative"},"y":{"field":"s","type":"quantitative"},"color":{"field":"g","type":"nominal"}}}]},
{"title":{"text":"Number of patients at risk","anchor":"start","frame":"group","fontSize":7.8,"fontWeight":"normal","color":"#333","offset":1},
"width":146,"height":16,"data":{"name":"risk"},"transform":[{"filter":"datum.p=='F'"}],
"mark":{"type":"text","fontSize":7.5,"color":"#444"},
"encoding":{"x":{"field":"t","type":"quantitative","scale":{"domain":[0,35],"nice":false},"axis":null},
"y":{"field":"g","type":"nominal","sort":["<83.85","≥83.85"],"axis":{"title":null,"domain":false,"ticks":false,"labelExpr":"'▬'","labelFont":"DejaVu Sans","labelFontSize":8,"labelFontWeight":"normal","labelPadding":7,"labelColor":{"condition":{"test":"indexof(datum.value,'<')===0","value":"#ff0000"},"value":"#00ee00"}}},
"text":{"field":"n","type":"quantitative"}}}]}
]}]},
{"spacing":45,"resolve":{"scale":{"color":"independent"},"legend":{"color":"independent"}},
"hconcat":[
{"title":{"text":"G","anchor":"start","frame":"bounds","font":"Liberation Serif","fontSize":15,"fontWeight":"bold","color":"black","offset":-7},
"vconcat":[{"title":{"text":["AUC 0.83 p<0.0001","<105 = sensitivity 83.33% and specificity 80%"],"fontSize":7.5,"offset":4},
"width":142,"height":95,"data":{"name":"roc"},"transform":[{"filter":"datum.p=='G'"}],
"encoding":{"x":{"field":"x","type":"quantitative","scale":{"domain":[0,100],"nice":false},"axis":{"values":[0,50,100],"title":"100% - Specificity%"}},
"y":{"field":"y","type":"quantitative","scale":{"domain":[0,100],"nice":false},"axis":{"values":[0,50,100],"title":"Sensitivity%","titleFontSize":7}}},
"layer":[{"mark":{"type":"line","color":"black","strokeWidth":1.3},"encoding":{"order":[{"field":"x","type":"quantitative"},{"field":"y","type":"quantitative"}]}},
{"mark":{"type":"point","filled":true,"color":"black","size":22,"opacity":1}}]}]},
{"spacing":23,"resolve":{"scale":{"color":"independent"},"legend":{"color":"independent"}},
"hconcat":[
{"title":{"text":"H","anchor":"start","frame":"bounds","font":"Liberation Serif","fontSize":15,"fontWeight":"bold","color":"black","offset":-2},
"bounds":"flush","spacing":34,
"resolve":{"scale":{"color":"independent"},"legend":{"color":"independent"}},
"vconcat":[
{"title":{"text":"p<0.0001","offset":7},"width":146,"height":97,
"layer":[
{"data":{"name":"km"},"transform":[{"filter":"datum.p=='H'"}],"mark":{"type":"line","interpolate":"step-after","strokeWidth":1.3},
"encoding":{"x":{"field":"t","type":"quantitative","scale":{"domain":[0,35],"nice":false},"axis":{"values":[0,15,30],"title":"Months","titleFontSize":8.5}},
"y":{"field":"s","type":"quantitative","scale":{"domain":[0,100],"nice":false},"axis":{"values":[0,50,100],"title":"PFS","titleFontSize":7}},
"color":{"field":"g","type":"nominal","scale":{"domain":["<105","≥105"],"range":["#ff0000","#00ee00"]},"legend":{"title":null,"legendX":135,"legendY":1}}}},
{"data":{"name":"cen"},"transform":[{"filter":"datum.p=='H'"}],"mark":{"type":"point","shape":"M0,-1V1","filled":false,"size":12,"strokeWidth":1,"opacity":1},
"encoding":{"x":{"field":"t","type":"quantitative"},"y":{"field":"s","type":"quantitative"},"color":{"field":"g","type":"nominal"}}}]},
{"title":{"text":"Number of patients at risk","anchor":"start","frame":"group","fontSize":7.8,"fontWeight":"normal","color":"#333","offset":1},
"width":146,"height":16,"data":{"name":"risk"},"transform":[{"filter":"datum.p=='H'"}],
"mark":{"type":"text","fontSize":7.5,"color":"#444"},
"encoding":{"x":{"field":"t","type":"quantitative","scale":{"domain":[0,35],"nice":false},"axis":null},
"y":{"field":"g","type":"nominal","sort":["<105","≥105"],"axis":{"title":null,"domain":false,"ticks":false,"labelExpr":"'▬'","labelFont":"DejaVu Sans","labelFontSize":8,"labelFontWeight":"normal","labelPadding":7,"labelColor":{"condition":{"test":"indexof(datum.value,'<')===0","value":"#ff0000"},"value":"#00ee00"}}},
"text":{"field":"n","type":"quantitative"}}}]},
{"title":{"text":"I","anchor":"start","frame":"bounds","font":"Liberation Serif","fontSize":15,"fontWeight":"bold","color":"black","offset":-2,"dx":-8},
"bounds":"flush","spacing":34,
"resolve":{"scale":{"color":"independent"},"legend":{"color":"independent"}},
"vconcat":[
{"title":{"text":"p=0.0041","offset":7},"width":146,"height":97,
"layer":[
{"data":{"name":"km"},"transform":[{"filter":"datum.p=='I'"}],"mark":{"type":"line","interpolate":"step-after","strokeWidth":1.3},
"encoding":{"x":{"field":"t","type":"quantitative","scale":{"domain":[0,35],"nice":false},"axis":{"values":[0,15,30],"title":"Months","titleFontSize":8.5}},
"y":{"field":"s","type":"quantitative","scale":{"domain":[0,100],"nice":false},"axis":{"values":[0,50,100],"title":"OS","titleFontSize":7}},
"color":{"field":"g","type":"nominal","scale":{"domain":["<105","≥105"],"range":["#ff0000","#00ee00"]},"legend":{"title":null,"legendX":136,"legendY":1}}}},
{"data":{"name":"cen"},"transform":[{"filter":"datum.p=='I'"}],"mark":{"type":"point","shape":"M0,-1V1","filled":false,"size":12,"strokeWidth":1,"opacity":1},
"encoding":{"x":{"field":"t","type":"quantitative"},"y":{"field":"s","type":"quantitative"},"color":{"field":"g","type":"nominal"}}}]},
{"title":{"text":"Number of patients at risk","anchor":"start","frame":"group","fontSize":7.8,"fontWeight":"normal","color":"#333","offset":1},
"width":146,"height":16,"data":{"name":"risk"},"transform":[{"filter":"datum.p=='I'"}],
"mark":{"type":"text","fontSize":7.5,"color":"#444"},
"encoding":{"x":{"field":"t","type":"quantitative","scale":{"domain":[0,35],"nice":false},"axis":null},
"y":{"field":"g","type":"nominal","sort":["<105","≥105"],"axis":{"title":null,"domain":false,"ticks":false,"labelExpr":"'▬'","labelFont":"DejaVu Sans","labelFontSize":8,"labelFontWeight":"normal","labelPadding":7,"labelColor":{"condition":{"test":"indexof(datum.value,'<')===0","value":"#ff0000"},"value":"#00ee00"}}},
"text":{"field":"n","type":"quantitative"}}}]}
]}]}
]
}
